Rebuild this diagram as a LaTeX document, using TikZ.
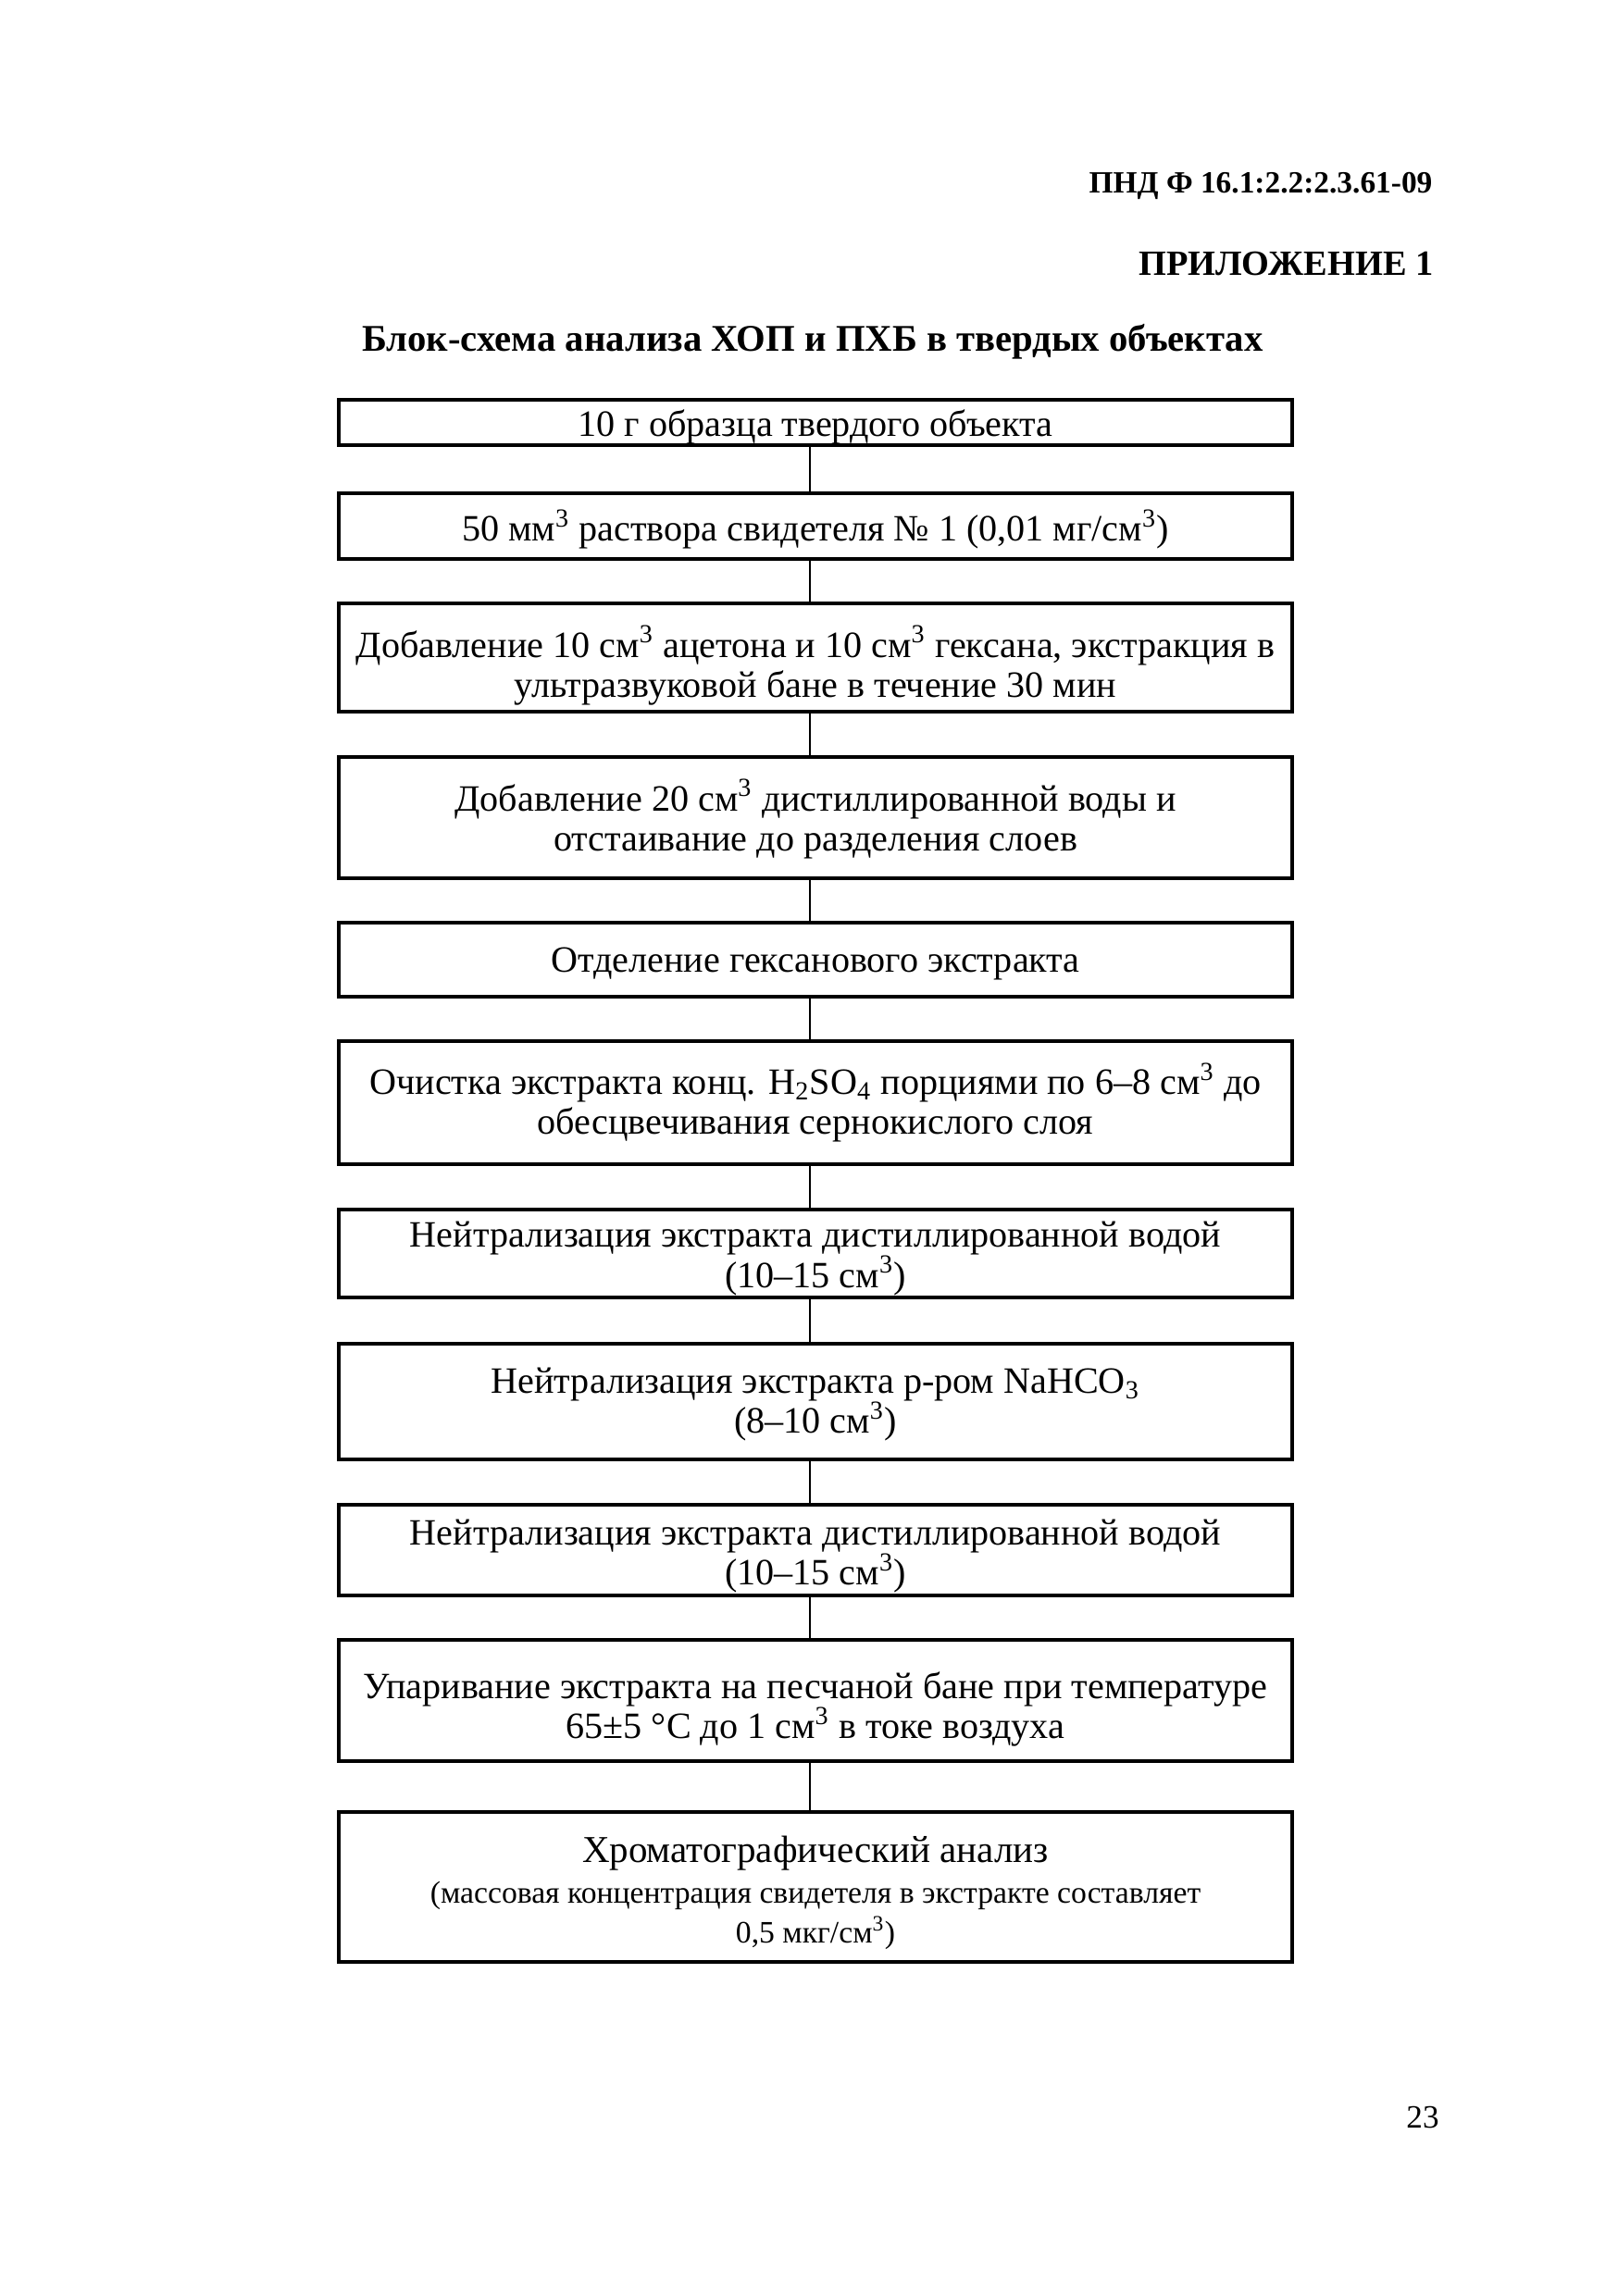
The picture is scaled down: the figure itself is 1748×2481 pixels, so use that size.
\documentclass[tikz,border=0pt]{standalone}
\usepackage{fontspec}
\setmainfont{Liberation Serif}
\newcommand\mkstep[5]{%
  \node[boxshape, minimum height=#3*0.12mm] (#1) at (881,#2) {};
  \node[boxtext] (#1t) at ([yshift=-#4*0.12mm]#1.center) {#5};}
\begin{document}
\begin{tikzpicture}[x=0.12mm,y=-0.12mm,
  boxshape/.style={draw, line width=1.2pt, inner sep=0pt, minimum width=123.6mm},
  boxtext/.style={inner sep=0pt, align=center, font=\fontsize{13.7}{14.8}\selectfont},
  link/.style={line width=0.8pt},
  hdr/.style={font=\bfseries\fontsize{11.4}{13}\selectfont, anchor=east, inner sep=0pt},
  ttl/.style={font=\bfseries\fontsize{13.9}{16}\selectfont}]
\useasboundingbox[fill=white] (0,0) rectangle (1748,2481);

\node[hdr] (h1) at (1548,201) {ПНД Ф 16.1:2.2:2.3.61-09};
\node[hdr, font=\bfseries\fontsize{13.1}{15}\selectfont] (h2) at (1549,285) {ПРИЛОЖЕНИЕ 1};
\node[ttl] (t) at (878,369) {Блок-схема анализа ХОП и ПХБ в твердых объектах};

\mkstep{b1}{456.5}{49}{4.7}{10 г образца твердого объекта}
\mkstep{b2}{568.5}{71}{3.2}{50 мм\textsuperscript{3} раствора свидетеля № 1 (0,01 мг/см\textsuperscript{3})}
\mkstep{b3}{710.5}{117}{8.7}{Добавление 10 см\textsuperscript{3} ацетона и 10 см\textsuperscript{3} гексана, экстракция в\\ ультразвуковой бане в течение 30 мин}
\mkstep{b4}{883.5}{131}{1.6}{Добавление 20 см\textsuperscript{3} дистиллированной воды и\\ отстаивание до разделения слоев}
\mkstep{b5}{1037}{80}{4.7}{Отделение гексанового экстракта}
\mkstep{b6}{1191.5}{133}{0}{Очистка экстракта конц. H\textsubscript{2}SO\textsubscript{4} порциями по 6–8 см\textsuperscript{3} до\\ обесцвечивания сернокислого слоя}
\mkstep{b7}{1354.5}{95}{5.5}{Нейтрализация экстракта дистиллированной водой\\ (10–15 см\textsuperscript{3})}
\mkstep{b8}{1514.5}{125}{3.2}{Нейтрализация экстракта р-ром NaHCO\textsubscript{3}\\ (8–10 см\textsuperscript{3})}
\mkstep{b9}{1675}{98}{6.3}{Нейтрализация экстракта дистиллированной водой\\ (10–15 см\textsuperscript{3})}
\mkstep{b10}{1837.5}{131}{9.5}{Упаривание экстракта на песчаной бане при температуре\\ 65±5 °C до 1 см\textsuperscript{3} в токе воздуха}
\mkstep{b11}{2039}{162}{6.5}{{\fontsize{14}{14.5}\selectfont Хроматографический анализ}\\
  {\fontsize{11.5}{14}\selectfont (массовая концентрация свидетеля в экстракте составляет}\\
  {\fontsize{11.5}{14}\selectfont 0,5 мкг/см\textsuperscript{3})}}

\foreach \a/\b in {b1/b2,b2/b3,b3/b4,b4/b5,b5/b6,b6/b7,b7/b8,b8/b9,b9/b10,b10/b11}
  \draw[link] ([xshift=-0.7mm]\a.south) -- ([xshift=-0.7mm]\b.north);

\node[font=\fontsize{12}{14}\selectfont] (pg) at (1537,2288) {23};
\end{tikzpicture}
\end{document}
